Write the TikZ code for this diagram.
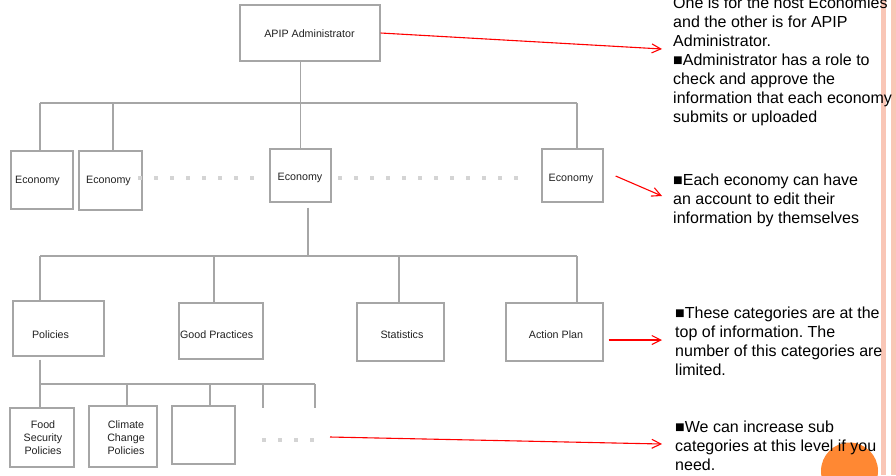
\documentclass[tikz,border=0pt]{standalone}
\usepackage{fontspec}
\setmainfont{Liberation Sans}
\usetikzlibrary{arrows.meta,calc}
\definecolor{linegray}{RGB}{166,166,166}
\definecolor{dotgray}{RGB}{212,212,212}
\definecolor{stripecol}{RGB}{249,198,182}
\definecolor{orangec}{RGB}{255,136,51}
\definecolor{txtdark}{RGB}{34,34,34}
\frenchspacing
\begin{document}
\begin{tikzpicture}[x=1pt,y=-1pt,
  box/.style={draw=linegray, line width=1.3pt, fill=white, inner sep=0pt, rectangle},
  lbl/.style={font=\fontsize{10.7}{13}\selectfont, text=txtdark, inner sep=0pt, anchor=base},
  lblm/.style={font=\fontsize{10.7}{13}\selectfont, text=txtdark, inner sep=0pt, align=center, anchor=center},
  conn/.style={draw=linegray, line width=1.3pt},
  redarrow/.style={draw=red, line width=1.1pt, -{Straight Barb[length=9pt,width=9pt]}},
  note/.style={font=\fontsize{16}{19}\selectfont\frenchspacing, text=black, align=left, inner sep=0pt, anchor=base west}]

\useasboundingbox (0,0) rectangle (896,475);
\fill[white] (0,0) rectangle (896,475);

% right stripes
\fill[stripecol] (881,0) rectangle (886,475);
\fill[stripecol] (891,0) rectangle (896,475);

% boxes
\node[box, minimum width=140, minimum height=56] (admin) at (310,33) {};
\node[box, minimum width=62, minimum height=58] (eco1) at (42,180) {};
\node[box, minimum width=63, minimum height=59] (eco2) at (110.5,180.5) {};
\node[box, minimum width=61, minimum height=53] (eco3) at (300.5,175.5) {};
\node[box, minimum width=61, minimum height=53] (eco4) at (572.5,175.5) {};
\node[box, minimum width=91, minimum height=55] (pol) at (58.5,328.5) {};
\node[box, minimum width=84, minimum height=56] (gp) at (221,331) {};
\node[box, minimum width=87, minimum height=58] (stat) at (400.5,332) {};
\node[box, minimum width=97, minimum height=58] (act) at (554.5,332) {};
\node[box, minimum width=64, minimum height=59] (food) at (42,437.5) {};
\node[box, minimum width=68, minimum height=61] (cc) at (123,436.5) {};
\node[box, minimum width=63, minimum height=58] (empty) at (203.5,435) {};

% box texts
\node[lbl] (admint) at (309.5,37) {APIP Administrator};
\node[lbl] (eco1t) at (37.5,183) {Economy};
\node[lbl] (eco2t) at (108.5,183) {Economy};
\node[lbl] (eco3t) at (300,180) {Economy};
\node[lbl] (eco4t) at (571,181) {Economy};
\node[lbl] (polt) at (50.5,338) {Policies};
\node[lbl] (gpt) at (216.7,338) {Good Practices};
\node[lbl] (statt) at (402,338) {Statistics};
\node[lbl] (actt) at (556,338) {Action Plan};
\node[lblm] (foodt) at (43,438) {Food\\Security\\Policies};
\node[lblm] (cct) at (126,438) {Climate\\Change\\Policies};

% tree level 1
\coordinate (j1a) at (40,103);
\coordinate (j1b) at (113,103);
\coordinate (j1d) at (577,103);
\draw[conn] (eco3.north) -- (eco3.north |- admin.south);
\draw[conn] (j1a) -- (j1d);
\draw[conn] (j1a) -- (j1a |- eco1.north);
\draw[conn] (j1b) -- (j1b |- eco2.north);
\draw[conn] (j1d) -- (j1d |- eco4.north);

% tree level 2
\coordinate (j2a) at (40,256);
\coordinate (j2b) at (214,256);
\coordinate (j2c) at (308,256);
\coordinate (j2d) at (399,256);
\coordinate (j2e) at (577,256);
\draw[conn] ($(eco3.south)+(7.5,5)$) -- (j2c);
\draw[conn] (j2a) -- (j2e);
\draw[conn] (j2a) -- (j2a |- pol.north);
\draw[conn] (j2b) -- (j2b |- gp.north);
\draw[conn] (j2d) -- (j2d |- stat.north);
\draw[conn] (j2e) -- (j2e |- act.north);

% tree level 3
\coordinate (j3a) at (40,384);
\coordinate (j3b) at (127,384);
\coordinate (j3c) at (210,384);
\coordinate (j3d) at (263,384);
\coordinate (j3e) at (315,384);
\coordinate (f3d) at (263,408);
\coordinate (f3e) at (315,408);
\draw[conn] ($(pol.south)+(-18.5,3)$) -- (j3a);
\draw[conn] (j3a) -- (j3e);
\draw[conn] (j3a) -- (j3a |- food.north);
\draw[conn] (j3b) -- (j3b |- cc.north);
\draw[conn] (j3c) -- (j3c |- empty.north);
\draw[conn] (j3d) -- (f3d);
\draw[conn] (j3e) -- (f3e);

% grey square dots
\foreach \x in {140,156,...,252} \fill[dotgray] (\x-2,176) rectangle (\x+2,180);
\foreach \x in {340,356,...,516} \fill[dotgray] (\x-2,176) rectangle (\x+2,180);
\foreach \x in {264,280,296,312} \fill[dotgray] (\x-2,438) rectangle (\x+2,442);

% orange circle
\fill[orangec] (849.5,471) circle (28.5);

% notes (anchor = baseline of last line)
\node[note] (n1) at (673,122) {One is for the host Economies\\and the other is for APIP\\Administrator.\\■Administrator has a role to\\check and approve the\\information that each economy\\submits or uploaded};
\node[note] (n2) at (673,223) {■Each economy can have\\an account to edit their\\information by themselves};
\node[note] (n3) at (675,375) {■These categories are at the\\top of information. The\\number of this categories are\\limited.};
\node[note] (n4) at (675,470) {■We can increase sub\\categories at this level if you\\need.};

% red arrows
\coordinate (a1) at (662,49);
\coordinate (a2) at (662,196);
\coordinate (a3) at (662,340);
\coordinate (a4) at (662,444);
\coordinate (s4) at (330,437);
\draw[redarrow] (admin.east) -- (a1);
\draw[redarrow] ($(eco4.east)+(12,0.5)$) -- (a2);
\draw[redarrow] ($(act.east)+(5,8)$) -- (a3);
\draw[redarrow] (s4) -- (a4);
\end{tikzpicture}
\end{document}
